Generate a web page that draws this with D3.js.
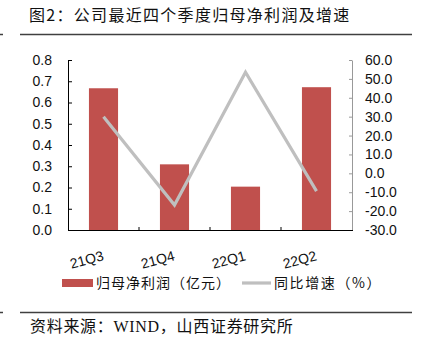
<!DOCTYPE html>
<html>
<head>
<meta charset="utf-8">
<script src="https://cdn.jsdelivr.net/npm/d3@7"></script>
<style>
  html, body { margin: 0; padding: 0; background: #fff; }
  #holder { width: 422px; height: 352px; }
</style>
</head>
<body>
<div id="holder"></div>
<script>
// 数据
const quarters = ['21Q3', '21Q4', '22Q1', '22Q2'];
const profit = [0.667, 0.309, 0.204, 0.672];      // 归母净利润（亿元）
const growth = [30.0, -16.8, 53.5, -9.4];         // 同比增速（%）
const leftTicks = [0, 0.1, 0.2, 0.3, 0.4, 0.5, 0.6, 0.7, 0.8];
const rightTicks = [-30, -20, -10, 0, 10, 20, 30, 40, 50, 60];
const titleText = '图2：公司最近四个季度归母净利润及增速';
const legendNames = ['归母净利润（亿元）', '同比增速（%）'];

let cfg = {
  barColor: '#c0504d',
  lineColor: '#bfbfbf',
  left: 68,
  right: 352,
  top: 60,
  bottom: 230,
  cjk: '"Noto Sans CJK SC", "Noto Sans", sans-serif',
  num: '"Liberation Sans", Arial, sans-serif'
};

let svg = d3.select('#holder').append('svg')
  .attr('width', 422).attr('height', 352);

let x = d3.scaleBand().domain(quarters)
  .range([cfg.left, cfg.right]).paddingInner(0.59).paddingOuter(0.295);
let yL = d3.scaleLinear().domain([0, 0.8]).range([cfg.bottom, cfg.top]);
let yR = d3.scaleLinear().domain([-30, 60]).range([cfg.bottom, cfg.top]);

// 标题和分隔线
svg.append('text').attr('x', 29).attr('y', 21)
  .attr('font-family', cfg.cjk).attr('font-size', 16).attr('fill', '#111')
  .attr('letter-spacing', 1.3)
  .text(titleText);
[34.5, 312.5].forEach(yy => {
  svg.append('line').attr('x1', 20).attr('x2', 412).attr('y1', yy).attr('y2', yy)
    .attr('stroke', '#404040').attr('stroke-width', 1.5);
  svg.append('line').attr('x1', 0).attr('x2', 3).attr('y1', yy).attr('y2', yy)
    .attr('stroke', '#404040').attr('stroke-width', 1.5);
});

// 柱子
svg.append('g').selectAll('rect').data(profit).enter()
  .append('rect')
  .attr('x', (d, i) => x(quarters[i]))
  .attr('y', d => yL(d))
  .attr('width', x.bandwidth())
  .attr('height', d => yL(0) - yL(d))
  .attr('fill', cfg.barColor);

// 折线
let line = d3.line()
  .x((d, i) => x(quarters[i]) + x.bandwidth() / 2)
  .y(d => yR(d));
svg.append('path').datum(growth)
  .attr('d', line).attr('fill', 'none')
  .attr('stroke', cfg.lineColor).attr('stroke-width', 3.2);

// 左轴
let axL = svg.append('g').attr('transform', `translate(${cfg.left},0)`)
  .call(d3.axisLeft(yL).tickValues(leftTicks).tickFormat(d => d.toFixed(1))
    .tickSize(-4).tickSizeOuter(0).tickPadding(16));
axL.select('.domain').attr('stroke', '#000');
axL.selectAll('.tick line').attr('stroke', '#000');
axL.selectAll('text').attr('font-family', cfg.num).attr('font-size', 14).attr('fill', '#111');

// 右轴
let axR = svg.append('g').attr('transform', `translate(${cfg.right},0)`)
  .call(d3.axisRight(yR).tickValues(rightTicks).tickFormat(d => d.toFixed(1))
    .tickSize(-3).tickSizeOuter(0).tickPadding(13));
axR.select('.domain').attr('stroke', '#999');
axR.selectAll('.tick line').attr('stroke', '#999');
axR.selectAll('text').attr('font-family', cfg.num).attr('font-size', 14).attr('fill', '#111');

// 横轴
let step = x.step();
let bounds = quarters.slice(1).map(q => x(q) - (step - x.bandwidth()) / 2);
let axB = svg.append('g');
axB.append('line').attr('x1', cfg.left).attr('x2', cfg.right + 1)
  .attr('y1', cfg.bottom + 0.5).attr('y2', cfg.bottom + 0.5)
  .attr('stroke', '#000').attr('stroke-width', 1);
axB.selectAll('.xtick').data(bounds).enter()
  .append('line').attr('class', 'xtick')
  .attr('x1', d => d).attr('x2', d => d)
  .attr('y1', cfg.bottom).attr('y2', cfg.bottom - 3)
  .attr('stroke', '#000');
axB.selectAll('.xlabel').data(quarters).enter()
  .append('text').attr('class', 'xlabel')
  .attr('transform', d => `translate(${x(d) + x.bandwidth() / 2 + 1},${cfg.bottom + 30}) rotate(-15)`)
  .attr('text-anchor', 'end')
  .attr('font-family', cfg.num).attr('font-size', 14).attr('fill', '#111')
  .text(d => d);

// 图例
let lg = svg.append('g');
lg.append('rect').attr('x', 62).attr('y', 279).attr('width', 31).attr('height', 8)
  .attr('fill', cfg.barColor);
lg.append('text').attr('x', 96).attr('y', 288)
  .attr('font-family', cfg.cjk).attr('font-size', 14).attr('fill', '#111')
  .attr('letter-spacing', 1)
  .text(legendNames[0]);
lg.append('line').attr('x1', 242).attr('x2', 271).attr('y1', 283).attr('y2', 283)
  .attr('stroke', cfg.lineColor).attr('stroke-width', 3.2);
lg.append('text').attr('x', 274).attr('y', 288)
  .attr('font-family', cfg.cjk).attr('font-size', 14).attr('fill', '#111')
  .attr('letter-spacing', 1.6)
  .text(legendNames[1]);

// 资料来源
let src = svg.append('text').attr('x', 30).attr('y', 332)
  .attr('font-family', cfg.cjk).attr('font-size', 16).attr('fill', '#111')
  .attr('letter-spacing', 0.7);
src.append('tspan').text('资料来源：');
src.append('tspan').attr('font-family', '"Liberation Serif", serif').text('WIND');
src.append('tspan').text('，山西证券研究所');
</script>
</body>
</html>
